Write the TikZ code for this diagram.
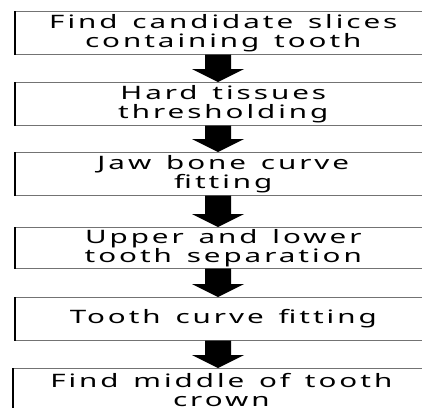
\documentclass[tikz,border=0pt]{standalone}
\usepackage{fontspec}
\usetikzlibrary{calc}
\newfontfamily\boxfont[LetterSpace=10]{Noto Sans}
\newcommand\wide[1]{\scalebox{1.6}[1]{\spaceskip=0.5em\relax #1}}
\begin{document}
\begin{tikzpicture}[x=1pt,y=-1pt,
  stepbox/.style={draw=black!55, line width=0.6pt, minimum width=416pt,
    minimum height=43pt, anchor=north west, inner sep=0pt, align=center,
    text width=410pt, font=\boxfont\fontsize{18.5}{19}\selectfont},
  leftedge/.style={line width=1.7pt, black},
  bigarrow/.style={fill=black}]
\useasboundingbox (0,0) rectangle (422,407);
\clip (0,0) rectangle (422,407);
\coordinate (ax) at (218,0);
\node[stepbox] (s1) at (15,11) {\wide{Find candidate slices}\\\wide{containing tooth}};
\node[stepbox] (s2) at (15,82) {\wide{Hard tissues}\\\wide{thresholding}};
\node[stepbox] (s3) at (15,152) {\wide{Jaw bone curve}\\\wide{fitting}};
\node[stepbox, minimum height=41pt] (s4) at (15,227) {\wide{Upper and lower}\\\wide{tooth separation}};
\node[stepbox] (s5) at (15,297) {\wide{Tooth curve fitting}};
\node[stepbox] (s6) at (13,368) {\wide{Find middle of tooth}\\\wide{crown}};
\foreach \n in {s1,s2,s3,s4,s5,s6}
  \draw[leftedge] (\n.north west) -- (\n.south west);
\foreach \a/\b in {s1/s2,s2/s3,s3/s4,s4/s5,s5/s6}
  \fill[bigarrow] ($(\a.south -| ax)+(-13,0)$) -- ($(\b.north -| ax)+(-13,-13)$)
    -- ($(\b.north -| ax)+(-26,-13)$) -- (\b.north -| ax)
    -- ($(\b.north -| ax)+(26,-13)$) -- ($(\b.north -| ax)+(13,-13)$)
    -- ($(\a.south -| ax)+(13,0)$) -- cycle;
\end{tikzpicture}
\end{document}
